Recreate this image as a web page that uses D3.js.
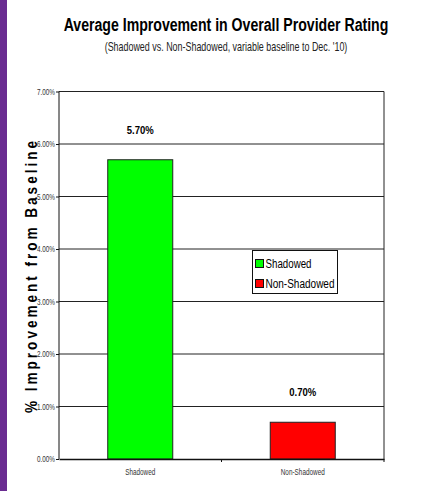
<!DOCTYPE html>
<html>
<head>
<meta charset="utf-8">
<script src="https://cdn.jsdelivr.net/npm/d3@7"></script>
<style>
  body { margin: 0; background: #fff; }
  svg { display: block; font-family: "Liberation Sans", Arial, sans-serif; }
</style>
</head>
<body>
<svg id="chart" width="433" height="491"></svg>
<script>
const categories = ['Shadowed', 'Non-Shadowed'];
const values = [5.70, 0.70];
const barColors = ['#00ff00', '#ff0000'];
const yTicks = [0, 1, 2, 3, 4, 5, 6, 7];

const svg = d3.select('#chart');
const plot = { left: 59, top: 91.5, right: 384, bottom: 459 };

// squeeze a text to a target width with a horizontal scale around its anchor
function fitWidth(sel, width, ax, ay) {
    const natural = sel.node().getComputedTextLength();
    sel.attr('transform', `translate(${ax},${ay}) scale(${width / natural},1)`)
        .attr('x', 0).attr('y', 0);
}

// purple strip at left edge
svg.append('rect').attr('x', 0).attr('y', 0).attr('width', 7).attr('height', 491).attr('fill', '#6a2c91');

const x = d3.scaleBand().domain(categories)
    .range([plot.left, plot.right]).paddingInner(0.6).paddingOuter(0.3);
const xAxisBand = d3.scaleBand().domain(categories).range([plot.left, plot.right]);
const y = d3.scaleLinear().domain([0, 7]).range([plot.bottom, plot.top]);

// gridlines
svg.append('g').selectAll('line').data(yTicks.slice(1)).join('line')
    .attr('x1', plot.left).attr('x2', plot.right)
    .attr('y1', d => y(d)).attr('y2', d => y(d))
    .attr('stroke', '#222').attr('stroke-width', 1);

// right border
svg.append('line').attr('x1', plot.right).attr('x2', plot.right)
    .attr('y1', plot.top).attr('y2', plot.bottom).attr('stroke', '#222');

// bars
svg.append('g').selectAll('rect').data(values).join('rect')
    .attr('x', (d, i) => x(categories[i]))
    .attr('y', d => y(d))
    .attr('width', x.bandwidth())
    .attr('height', d => y(0) - y(d))
    .attr('fill', (d, i) => barColors[i])
    .attr('stroke', '#222').attr('stroke-width', 1);

// value labels
svg.append('g').selectAll('text').data(values).join('text')
    .attr('x', (d, i) => x(categories[i]) + x.bandwidth() / 2)
    .attr('y', d => y(d) - 26)
    .attr('text-anchor', 'middle')
    .attr('font-size', 11).attr('font-weight', 'bold')
    .attr('textLength', 27).attr('lengthAdjust', 'spacingAndGlyphs')
    .text(d => d.toFixed(2) + '%');

// y axis
const yAxis = svg.append('g').attr('transform', `translate(${plot.left},0)`)
    .call(d3.axisLeft(y).tickValues(yTicks).tickSize(3).tickFormat(d => d.toFixed(2) + '%'));
yAxis.select('.domain').attr('stroke', '#111').attr('d', `M0,${plot.top}V${plot.bottom}`);
yAxis.selectAll('.tick line').attr('stroke', '#111');
yAxis.selectAll('.tick text')
    .attr('font-family', '"Liberation Sans", sans-serif')
    .attr('font-size', 8.5).attr('fill', '#333').attr('x', -4)
    .attr('textLength', 18).attr('lengthAdjust', 'spacingAndGlyphs');

// x axis
const xAxis = svg.append('g').attr('transform', `translate(0,${plot.bottom})`)
    .call(d3.axisBottom(xAxisBand).tickSize(0).tickPadding(10));
xAxis.select('.domain').attr('stroke', '#111').attr('stroke-width', 1.5);
xAxis.selectAll('.tick text')
    .attr('font-family', '"Liberation Sans", sans-serif')
    .attr('font-size', 8.5).attr('fill', '#333')
    .attr('textLength', d => d === 'Shadowed' ? 30 : 44)
    .attr('lengthAdjust', 'spacingAndGlyphs');
xAxis.selectAll('.sep').data([plot.left + xAxisBand.step(), plot.right]).join('line')
    .attr('class', 'sep')
    .attr('x1', d => d).attr('x2', d => d).attr('y1', 0).attr('y2', 3)
    .attr('stroke', '#111');

// y axis title
svg.append('text')
    .attr('transform', 'translate(37,277) rotate(-90) scale(0.8,1)')
    .attr('text-anchor', 'middle')
    .attr('font-size', 17).attr('font-weight', 'bold')
    .attr('textLength', 340).attr('lengthAdjust', 'spacing')
    .text('% Improvement from Baseline');

// title
const title = svg.append('text')
    .attr('text-anchor', 'middle').attr('font-size', 19).attr('font-weight', 'bold')
    .text('Average Improvement in Overall Provider Rating');
fitWidth(title, 325, 226, 31);
const subtitle = svg.append('text')
    .attr('text-anchor', 'middle').attr('font-size', 12).attr('fill', '#222')
    .text("(Shadowed vs. Non-Shadowed, variable baseline to Dec. '10)");
fitWidth(subtitle, 243, 226, 50.5);

// legend
const legend = svg.append('g').attr('transform', 'translate(252.5,250.5)');
legend.append('rect').attr('width', 85).attr('height', 43)
    .attr('fill', '#fff').attr('stroke', '#111');
const items = legend.selectAll('g').data(categories).join('g')
    .attr('transform', (d, i) => `translate(3,${13 + i * 20})`);
items.append('rect').attr('x', 0).attr('y', -4).attr('width', 8).attr('height', 8)
    .attr('fill', (d, i) => barColors[i]).attr('stroke', '#111');
items.append('text').attr('x', 10).attr('y', 4.5)
    .attr('font-size', 12)
    .attr('textLength', d => d === 'Shadowed' ? 46 : 69)
    .attr('lengthAdjust', 'spacingAndGlyphs')
    .text(d => d);
</script>
</body>
</html>
